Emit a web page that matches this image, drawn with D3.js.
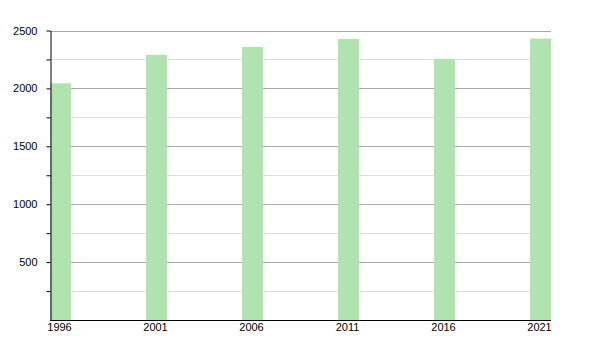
<!DOCTYPE html>
<head>
    <meta charset="utf-8">
    <script src="https://d3js.org/d3.v7.min.js"></script>
    <style>
        html, body { padding: 0; margin: 0; background: #fff; }
        svg { display: block; }
        text { font-family: "Liberation Sans", Arial, sans-serif; font-size: 11px; fill: #000; }
    </style>
</head>
<body>
<svg width="600" height="350"></svg>
<script>
    var years = [1996, 2001, 2006, 2011, 2016, 2021];
    var population = [2044, 2290, 2358, 2427, 2255, 2430];
    var yTicks = [500, 1000, 1500, 2000, 2500];
    var yMinorTicks = [250, 750, 1250, 1750, 2250];

    var svg = d3.select("svg");
    var plotLeft = 50, plotRight = 551, plotTop = 30.5, plotBottom = 320;
    var barWidth = 21;

    var x = d3.scaleLinear().domain([1996, 2021]).range([plotLeft, plotRight - barWidth]);
    var y = d3.scaleLinear().domain([0, 2500]).range([plotBottom, plotTop]);

    // grid
    svg.append("g").selectAll("line")
        .data(yMinorTicks)
        .enter().append("line")
        .attr("x1", plotLeft).attr("x2", plotRight)
        .attr("y1", function(d) { return Math.round(y(d)) + 0.5; })
        .attr("y2", function(d) { return Math.round(y(d)) + 0.5; })
        .attr("stroke", "#dedede");

    svg.append("g").selectAll("line")
        .data(yTicks)
        .enter().append("line")
        .attr("x1", plotLeft).attr("x2", plotRight)
        .attr("y1", function(d) { return Math.round(y(d)) + 0.5; })
        .attr("y2", function(d) { return Math.round(y(d)) + 0.5; })
        .attr("stroke", "#a8a8a8");

    // bars
    svg.append("g").selectAll("rect")
        .data(years)
        .enter().append("rect")
        .attr("x", function(d) { return x(d); })
        .attr("width", barWidth)
        .attr("y", function(d, i) { return y(population[i]); })
        .attr("height", function(d, i) { return plotBottom - y(population[i]); })
        .attr("fill", "#b1e3b1");

    // y axis
    var yAxis = svg.append("g")
        .attr("transform", "translate(" + (plotLeft + 0.5) + ",0)")
        .call(d3.axisLeft(y).tickValues(yTicks).tickFormat(d3.format("d")).tickSize(4).tickPadding(9).tickSizeOuter(0));
    yAxis.select(".domain").attr("stroke", "#000");
    yAxis.selectAll("text").style("font-family", "Liberation Sans, Arial, sans-serif").style("font-size", "11px");

    svg.append("g")
        .attr("transform", "translate(" + (plotLeft + 0.5) + ",0)")
        .call(d3.axisLeft(y).tickValues(yMinorTicks).tickSize(4).tickFormat(""))
        .select(".domain").remove();

    // x axis
    var xAxis = svg.append("g")
        .attr("transform", "translate(0," + (plotBottom + 0.5) + ")")
        .call(d3.axisBottom(x).tickValues(years).tickFormat(d3.format("d")).tickSize(0).tickPadding(3));
    xAxis.select(".domain").attr("d", "M" + plotLeft + ",0H" + plotRight).attr("stroke", "#000");
    xAxis.selectAll(".tick").attr("transform", function(d) { return "translate(" + (x(d) + 9.5) + ",0)"; });
    xAxis.selectAll("text").style("font-family", "Liberation Sans, Arial, sans-serif").style("font-size", "11px");
</script>
</body>
